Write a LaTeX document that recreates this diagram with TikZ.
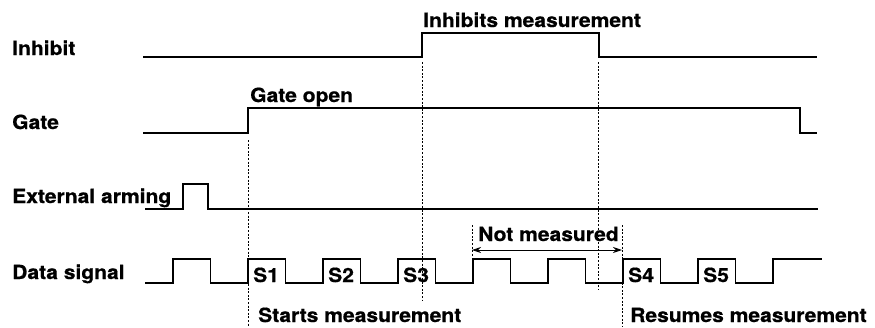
\documentclass[tikz,border=0pt]{standalone}
\usepackage{fontspec}
\setmainfont{TeX Gyre Heros}[FakeStretch=1.08, FakeBold=0.6]
\usetikzlibrary{arrows.meta}

\tikzset{
  wave/.style={line width=1.1pt},
  guide/.style={line width=0.7pt, dash pattern=on 2pt off 1.6pt},
  lbl/.style={anchor=base west, inner sep=0pt, font=\bfseries\fontsize{19.5}{23}\selectfont},
}

\begin{document}
\begin{tikzpicture}[x=1pt, y=-1pt]
  \useasboundingbox (0,0) rectangle (875,327);

  % ---- signal names ----
  \node[lbl] (inhibit) at (12,55) {Inhibit};
  \node[lbl] (gate) at (12,129) {Gate};
  \node[lbl] (arming) at (12,203) {External arming};
  \node[lbl] (data) at (12,279) {Data signal};

  % ---- Inhibit ----
  \draw[wave] (143,57) -- (422,57) -- (422,33) -- (599,33) -- (599,57) -- (817,57);
  \node[lbl] (inhmeas) at (423,27) {Inhibits measurement};

  % ---- Gate ----
  \draw[wave] (143,133) -- (248,133) -- (248,108) -- (800,108) -- (800,133) -- (817,133);
  \node[lbl] (gateopen) at (250,102) {Gate open};

  % ---- External arming ----
  \draw[wave] (145,209) -- (183,209) -- (183,184) -- (208,184) -- (208,209) -- (818,209);

  % ---- Data signal ----
  \draw[wave] (145,283)
    foreach \k in {0,...,7} {
      -- ({173+75*\k},283) -- ({173+75*\k},259) -- ({210.5+75*\k},259) -- ({210.5+75*\k},283)
    } -- (773,283) -- (773,259) -- (822,259);
  % pulse names
  \foreach \k/\s in {1/S1, 2/S2, 3/S3, 6/S4, 7/S5}
    \node[lbl] (s\k) at ({178+75*\k},282) {\s};

  % ---- guides ----
  \draw[guide] (248,140) -- (248,327);
  \draw[guide] (422,62) -- (422,300);
  \draw[guide] (598,62) -- (598,290);
  \draw[guide] (472,225) -- (472,257);
  \draw[guide] (622,225) -- (622,327);

  % Not measured
  \coordinate (nmL) at (472,250);
  \coordinate (nmR) at (622,250);
  \draw[line width=0.9pt, {Stealth[length=9pt,width=6pt]}-{Stealth[length=9pt,width=6pt]}] (nmL) -- (nmR);
  \node[lbl] (notmeas) at (478,241) {Not measured};

  % Starts / Resumes
  \node[lbl] (starts) at (258,322) {Starts measurement};
  \node[lbl] (resumes) at (630,322) {Resumes measurement};
\end{tikzpicture}
\end{document}
